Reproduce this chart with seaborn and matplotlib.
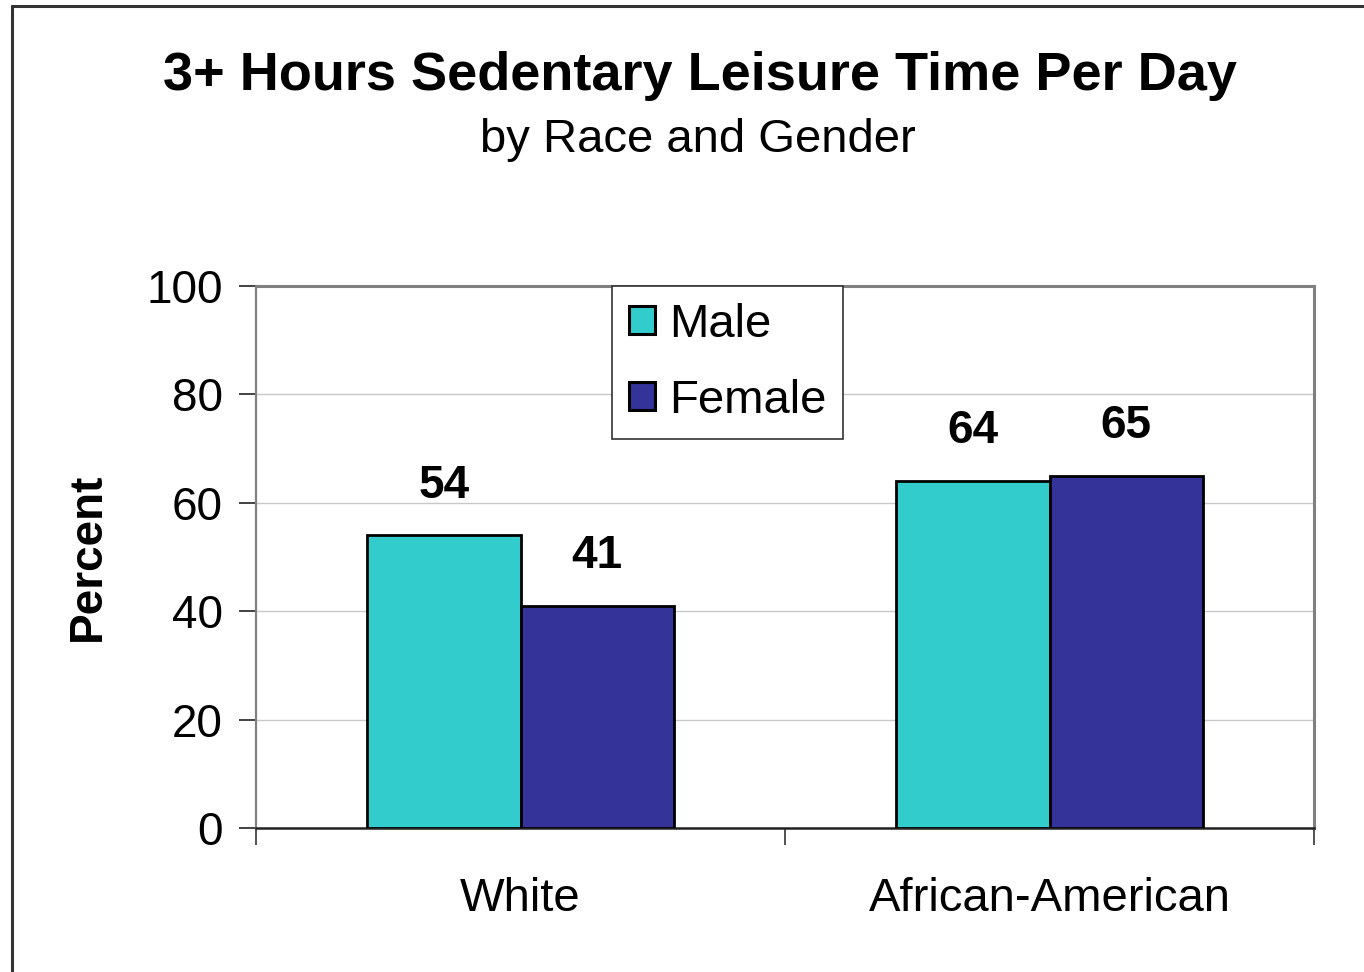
import matplotlib
matplotlib.use("Agg")
import matplotlib.pyplot as plt
import seaborn as sns
import pandas as pd
from matplotlib.patches import Patch
from matplotlib.lines import Line2D

# data
races = ["White", "African-American"]
male = [54, 64]
female = [41, 65]
genders = ["Male", "Female"]
yticks = [0, 20, 40, 60, 80, 100]

df = pd.DataFrame({
    "race": races * 2,
    "gender": ["Male"] * len(races) + ["Female"] * len(races),
    "pct": male + female,
})

sns.set_style("white")
plt.rcParams["font.family"] = ["Liberation Sans", "DejaVu Sans"]
plt.rcParams["text.color"] = "black"
plt.rcParams["axes.labelcolor"] = "black"
plt.rcParams["xtick.color"] = "black"
plt.rcParams["ytick.color"] = "black"

colors = {"Male": "#33CCCC", "Female": "#333399"}

fig = plt.figure(figsize=(13.64, 9.72), dpi=100)
ax = fig.add_axes([256 / 1364, 1 - 828 / 972, (1314 - 256) / 1364, (828 - 286) / 972])

sns.barplot(data=df, x="race", y="pct", hue="gender", hue_order=genders,
            order=races, palette=colors, width=0.58, edgecolor="black",
            linewidth=2, saturation=1, ax=ax, legend=False, zorder=3)

for c in ax.containers:
    ax.bar_label(c, fmt="%d", padding=20, fontsize=33, fontweight="bold")

ax.set_ylim(0, 100)
ax.set_xlim(-0.5, 1.5)
ax.set_yticks(yticks)
ax.set_yticklabels([str(t) for t in yticks], fontsize=33)
ax.yaxis.grid(True, color="#C8C8C8", linewidth=1, zorder=0)
ax.set_axisbelow(True)

# category labels without marks, boundary ticks as minor
ax.set_xticks(range(len(races)))
ax.set_xticklabels(races, fontsize=34)
ax.tick_params(axis="x", which="major", length=0, pad=35)
ax.set_xticks([-0.5, 0.5, 1.5], minor=True)
ax.tick_params(axis="x", which="minor", length=12, width=1.2, color="#333333",
               direction="out", bottom=True)
ax.tick_params(axis="y", length=12, width=1.2, color="#222222", direction="out",
               left=True, pad=12)

ax.set_xlabel("")
ax.set_ylabel("Percent", fontsize=33, fontweight="bold", labelpad=26)

for side in ["top", "right", "left"]:
    ax.spines[side].set_color("#808080")
    ax.spines[side].set_linewidth(2.2)
ax.spines["left"].set_linewidth(1.6)
ax.spines["bottom"].set_color("#222222")
ax.spines["bottom"].set_linewidth(1.8)

handles = [Patch(facecolor=colors[g], edgecolor="black", linewidth=2.2, label=g)
           for g in genders]
leg = ax.legend(handles=handles, loc="upper left",
                bbox_to_anchor=((612 - 256) / 1058, 1.0),
                fontsize=34, frameon=True, fancybox=False, framealpha=1,
                handlelength=0.55, handleheight=0.55, handletextpad=0.3,
                labelspacing=0.68, borderpad=0.35, borderaxespad=0)
leg.get_frame().set_edgecolor("#333333")
leg.get_frame().set_linewidth(1.2)
leg.set_zorder(5)

fig.text(0.513, 1 - 76 / 972, "3+ Hours Sedentary Leisure Time Per Day",
         ha="center", va="center", fontsize=39, fontweight="bold")
fig.text(0.5115, 1 - 140 / 972, "by Race and Gender",
         ha="center", va="center", fontsize=34)

# outer frame (only left and top visible in the source)
fig.add_artist(Line2D([12 / 1364, 12 / 1364], [0, 1 - 6 / 972],
                      transform=fig.transFigure, color="#333333", linewidth=2.2))
fig.add_artist(Line2D([12 / 1364, 1], [1 - 6 / 972, 1 - 6 / 972],
                      transform=fig.transFigure, color="#333333", linewidth=2.2))

fig.savefig("out.png", dpi=100)
